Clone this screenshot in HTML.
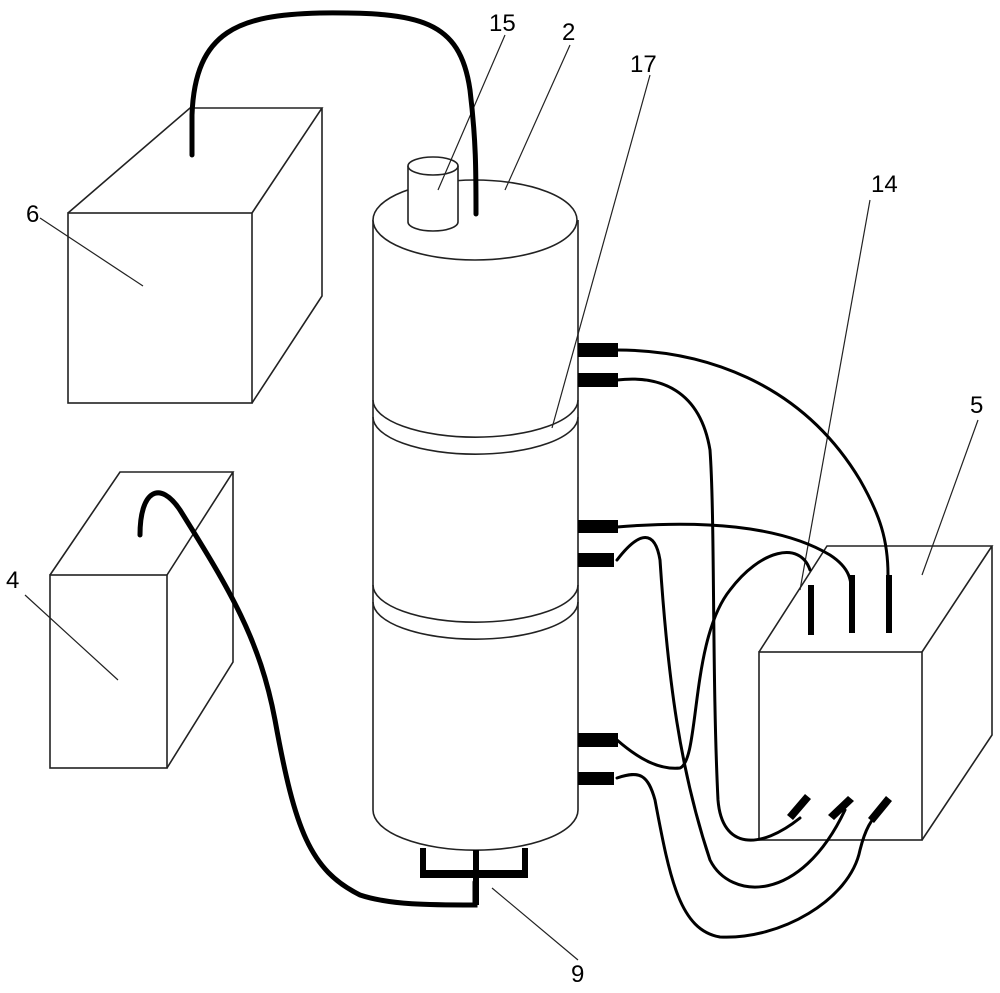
<!DOCTYPE html>
<html><head><style>body{margin:0;background:#fff}svg{display:block}text{font-family:"Liberation Sans",sans-serif;font-size:24px}</style></head>
<body>
<svg width="1000" height="993" viewBox="0 0 1000 993" xmlns="http://www.w3.org/2000/svg">
<g fill="none" stroke="#222" stroke-width="1.6">
<!-- box 6 -->
<rect x="68" y="213" width="184" height="190"/>
<path d="M68 213 L190 108 L322 108 L252 213 M322 108 L322 296 L252 403"/>
<!-- box 4 -->
<rect x="50" y="575" width="117" height="193"/>
<path d="M50 575 L120 472 L233 472 L167 575 M233 472 L233 662 L167 768"/>
<!-- box 5 -->
<rect x="759" y="652" width="163" height="188"/>
<path d="M759 652 L827 546 L992 546 L922 652 M992 546 L992 735 L922 840"/>
<!-- cylinder -->
<path d="M373 220 L373 810 A102 40 0 0 0 578 810 L578 220"/>
<ellipse cx="475" cy="220" rx="102" ry="40" fill="#fff"/>
<path d="M373 400 A102 37 0 0 0 578 400 M373 417 A102 37 0 0 0 578 417"/>
<path d="M373 585 A102 37 0 0 0 578 585 M373 602 A102 37 0 0 0 578 602"/>
<!-- small cylinder 15 -->
<path d="M408 166 L408 222 A25 9 0 0 0 458 222 L458 166" fill="#fff"/>
<ellipse cx="433" cy="166" rx="25" ry="9" fill="#fff"/>
<!-- leader lines -->
<path d="M40 218 L143 286 M25 595 L118 680 M438 190 L505 35 M505 190 L570 45 M552 428 L650 75 M800 590 L870 200 M922 575 L978 420 M492 888 L578 960" stroke-width="1.2"/>
</g>
<g fill="none" stroke="#000" stroke-width="4" stroke-linecap="round">
<!-- top cable -->
<path d="M192 155 L192 115 C195 30 240 15 320 13 C420 12 460 20 470 90 C476 140 476 170 476 214" stroke-width="5"/>
<!-- cable from box 4 to bottom -->
<path d="M140 535 C140 490 160 480 180 510 C230 590 260 640 275 720 C295 830 310 870 360 895 C390 905 430 905 475 905 L475 882" stroke-width="5"/>
<!-- right cables -->
<path d="M617 350 C700 350 800 380 860 480 C880 515 888 540 888 575" stroke-width="3"/>
<path d="M617 380 C660 375 700 390 710 450 C715 520 712 680 718 800 C722 850 760 850 800 818" stroke-width="3"/>
<path d="M617 527 C700 520 780 525 830 555 C850 568 852 580 852 600" stroke-width="3"/>
<path d="M617 560 C640 530 655 530 660 560 C668 680 680 770 710 860 C730 900 800 905 845 810" stroke-width="3"/>
<path d="M617 740 C640 760 660 770 680 768 C700 760 690 640 730 590 C760 550 800 540 810 570" stroke-width="3"/>
<path d="M617 778 C640 770 648 775 655 800 C670 880 680 930 720 937 C780 940 850 900 860 850 C865 830 870 820 885 805" stroke-width="3"/>
</g>
<g fill="#000">
<rect x="578" y="343" width="40" height="14"/><rect x="578" y="373" width="40" height="14"/>
<rect x="578" y="520" width="40" height="13"/><rect x="578" y="553" width="36" height="14"/>
<rect x="578" y="733" width="40" height="14"/><rect x="578" y="772" width="36" height="13"/>
<rect x="808" y="585" width="6" height="50"/><rect x="849" y="575" width="6" height="58"/><rect x="886" y="575" width="6" height="58"/>
<path d="M787 815 L805 794 L811 799 L793 820Z M828 815 L848 796 L854 801 L834 820Z M868 818 L886 796 L892 801 L874 823Z"/>
<!-- item 9 -->
<path d="M420 848 L426 848 L426 870 L473 870 L473 850 L479 850 L479 870 L522 870 L522 848 L528 848 L528 878 L479 878 L479 905 L473 905 L473 878 L420 878Z"/>
</g>
<text x="26" y="222">6</text>
<text x="6" y="588">4</text>
<text x="489" y="31">15</text>
<text x="562" y="40">2</text>
<text x="630" y="72">17</text>
<text x="871" y="192">14</text>
<text x="970" y="413">5</text>
<text x="571" y="982">9</text>
</svg>
</body></html>
